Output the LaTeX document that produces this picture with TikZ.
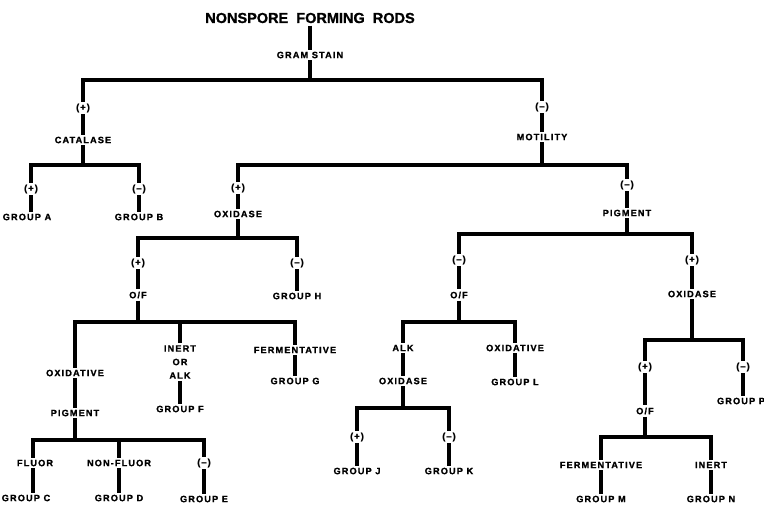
\documentclass[tikz,border=0pt]{standalone}
\usepackage{fontspec}
\setmainfont{Liberation Sans}[LetterSpace=12,BoldFeatures={FakeBold=1.2}]
\begin{document}
\begin{tikzpicture}[x=1pt,y=-1pt,
  lab/.style={font=\bfseries\fontsize{9.2}{13.5}\selectfont,inner sep=2.2pt,outer sep=0pt,align=center},
  ttl/.style={font=\bfseries\fontsize{14.5}{16}\selectfont\addfontfeature{LetterSpace=0},inner sep=2.5pt,outer sep=0pt},
  link/.style={line width=3.1pt,line join=miter,line cap=butt}]
\useasboundingbox (0,0) rectangle (764,507);
% nodes
\node[ttl] (T) at (310,18) {NONSPORE\ \ FORMING\ \ RODS};
\node[lab] (GS) at (310,55) {GRAM STAIN};
\coordinate (b1) at (0,80);
\node[lab] (P1) at (83,108) {(+)};
\node[lab] (CAT) at (83,140) {CATALASE};
\coordinate (b2) at (0,165);
\node[lab] (P2) at (31,189) {(+)};
\node[lab] (GA) at (27,217) {GROUP A};
\node[lab] (M2) at (139,189) {(--)};
\node[lab] (GB) at (139,217) {GROUP B};
\node[lab] (M1) at (542,107) {(--)};
\node[lab] (MOT) at (542,137) {MOTILITY};
\coordinate (b3) at (0,165);
\node[lab] (P3) at (238,188) {(+)};
\node[lab] (OX1) at (238,214) {OXIDASE};
\coordinate (b4) at (0,238);
\node[lab] (P4) at (138,263) {(+)};
\node[lab] (OF1) at (138,295) {O/F};
\node[lab] (M4) at (297,263) {(--)};
\node[lab] (GH) at (297,296) {GROUP H};
\coordinate (b5) at (0,322);
\node[lab] (OXD) at (75,373) {OXIDATIVE};
\node[lab] (PIG1) at (75,413) {PIGMENT};
\coordinate (b6) at (0,440);
\node[lab] (FL) at (35,463) {FLUOR};
\node[lab] (GC) at (26,498) {GROUP C};
\node[lab] (NF) at (119,463) {NON-FLUOR};
\node[lab] (GD) at (119,498) {GROUP D};
\node[lab] (M6) at (204,463) {(--)};
\node[lab] (GE) at (204,499) {GROUP E};
\node[lab] (IOA) at (180,362) {INERT\\OR\\ALK};
\node[lab] (GF) at (180,409) {GROUP F};
\node[lab] (FERM) at (295,350) {FERMENTATIVE};
\node[lab] (GG) at (295,381) {GROUP G};
\node[lab] (M3) at (627,185) {(--)};
\node[lab] (PIG2) at (627,213) {PIGMENT};
\coordinate (b7) at (0,234);
\node[lab] (M7) at (459,260) {(--)};
\node[lab] (OF2) at (459,295) {O/F};
\coordinate (b8) at (0,322);
\node[lab] (ALK) at (403,348) {ALK};
\node[lab] (OX2) at (403,381) {OXIDASE};
\coordinate (b9) at (0,408);
\node[lab] (P9) at (357,437) {(+)};
\node[lab] (GJ) at (357,471) {GROUP J};
\node[lab] (M9) at (449,437) {(--)};
\node[lab] (GK) at (449,471) {GROUP K};
\node[lab] (OXD2) at (515,348) {OXIDATIVE};
\node[lab] (GL) at (515,382) {GROUP L};
\node[lab] (P7) at (692,260) {(+)};
\node[lab] (OX3) at (692,294) {OXIDASE};
\coordinate (b10) at (0,340);
\node[lab] (P10) at (645,367) {(+)};
\node[lab] (OF3) at (645,411) {O/F};
\node[lab] (M10) at (743,367) {(--)};
\node[lab] (GP) at (741,401) {GROUP P};
\coordinate (b11) at (0,437);
\node[lab] (FERM2) at (601,465) {FERMENTATIVE};
\node[lab] (GM) at (601,499) {GROUP M};
\node[lab] (IN2) at (711,465) {INERT};
\node[lab] (GN) at (711,499) {GROUP N};
\coordinate (cx) at (33,0);
% connectors
\draw[link] (T) -- (GS);
\draw[link] (GS) -- (GS |- b1);
\draw[link] (P1.north) |- (M1.north |- b1) -- (M1.north);
\draw[link] (P1) -- (CAT);
\draw[link] (CAT) -- (CAT |- b2);
\draw[link] (P2.north) |- (M2.north |- b2) -- (M2.north);
\draw[link] (P2) -- (P2 |- GA.north);
\draw[link] (M2) -- (GB);
\draw[link] (M1) -- (MOT);
\draw[link] (MOT) -- (MOT |- b3);
\draw[link] (P3.north) |- (M3.north |- b3) -- (M3.north);
\draw[link] (P3) -- (OX1);
\draw[link] (OX1) -- (OX1 |- b4);
\draw[link] (P4.north) |- (M4.north |- b4) -- (M4.north);
\draw[link] (P4) -- (OF1);
\draw[link] (M4) -- (GH);
\draw[link] (OF1) -- (OF1 |- b5);
\draw[link] (OXD.north) |- (FERM.north |- b5) -- (FERM.north);
\draw[link] (IOA.north) -- (IOA.north |- b5);
\draw[link] (OXD) -- (PIG1);
\draw[link] (PIG1) -- (PIG1 |- b6);
\draw[link] (cx |- FL.north) |- (M6.north |- b6) -- (M6.north);
\draw[link] (NF.north) -- (NF.north |- b6);
\draw[link] (cx |- FL.south) -- (cx |- GC.north);
\draw[link] (NF) -- (GD);
\draw[link] (M6) -- (GE);
\draw[link] (IOA) -- (GF);
\draw[link] (FERM) -- (GG);
\draw[link] (M3) -- (PIG2);
\draw[link] (PIG2) -- (PIG2 |- b7);
\draw[link] (M7.north) |- (P7.north |- b7) -- (P7.north);
\draw[link] (M7) -- (OF2);
\draw[link] (OF2) -- (OF2 |- b8);
\draw[link] (ALK.north) |- (OXD2.north |- b8) -- (OXD2.north);
\draw[link] (ALK) -- (OX2);
\draw[link] (OX2) -- (OX2 |- b9);
\draw[link] (P9.north) |- (M9.north |- b9) -- (M9.north);
\draw[link] (P9) -- (GJ);
\draw[link] (M9) -- (GK);
\draw[link] (OXD2) -- (GL);
\draw[link] (P7) -- (OX3);
\draw[link] (OX3) -- (OX3 |- b10);
\draw[link] (P10.north) |- (M10.north |- b10) -- (M10.north);
\draw[link] (P10) -- (OF3);
\draw[link] (M10) -- (M10 |- GP.north);
\draw[link] (OF3) -- (OF3 |- b11);
\draw[link] (FERM2.north) |- (IN2.north |- b11) -- (IN2.north);
\draw[link] (FERM2) -- (GM);
\draw[link] (IN2) -- (GN);
\end{tikzpicture}
\end{document}
